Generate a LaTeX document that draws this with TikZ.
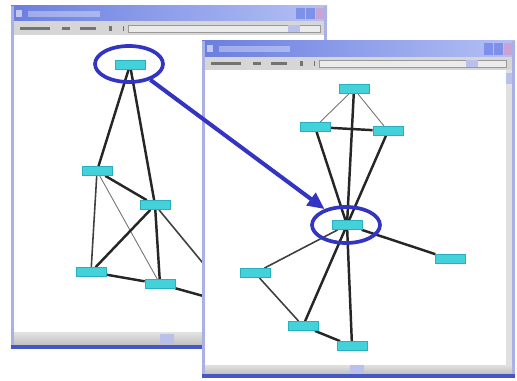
\documentclass[tikz,border=0pt]{standalone}
\usetikzlibrary{shapes.geometric,arrows.meta}
\definecolor{frame}{HTML}{A8B0E4}
\definecolor{titleL}{HTML}{6A7EE0}
\definecolor{titleR}{HTML}{B4C0F4}
\definecolor{tool}{HTML}{D6D6D6}
\definecolor{edge}{HTML}{4656C4}
\definecolor{nodefill}{HTML}{44D2DA}
\definecolor{nodeline}{HTML}{2AAFC0}
\definecolor{hilite}{HTML}{3434C2}
\definecolor{btn}{HTML}{7E90E8}
\definecolor{btnx}{HTML}{C8A4D4}
\tikzset{
  gnode/.style={rectangle,fill=nodefill,draw=nodeline,line width=0.4pt,minimum width=0.6cm,minimum height=0.18cm,inner sep=0pt},
  ethick/.style={line width=1.4pt,draw=black!85},
  emid/.style={line width=0.9pt,draw=black!75},
  ethin/.style={line width=0.5pt,draw=black!55},
  ring/.style={ellipse,draw=hilite,line width=2.1pt,minimum width=1.36cm,minimum height=0.72cm,inner sep=0pt},
  blob/.style={fill=black!55},
}
\begin{document}
\begin{tikzpicture}[x=0.02cm,y=-0.02cm]
\useasboundingbox (0,0) rectangle (517,381);
\fill[white] (0,0) rectangle (517,381);
% ---------- window 1 ----------
\fill[white] (11,6) rectangle (327,348);
\shade[left color=titleL,right color=titleR] (11,6) rectangle (327,21);
\fill[white,opacity=0.35] (28,11) rectangle (100,17);
\fill[frame!70!white] (16,10) rectangle (22,17);
\fill[btn] (296,8) rectangle (305,19);
\fill[btn] (306,8) rectangle (315,19);
\fill[btnx] (316,8) rectangle (325,19);
\fill[tool] (13,21) rectangle (325,35);
\fill[blob] (20,27) rectangle (50,30);
\fill[blob] (62,27) rectangle (70,30);
\fill[blob] (80,27) rectangle (96,30);
\fill[blob] (109,26) rectangle (112,31);
\fill[blob] (123,26) rectangle (124,31);
\fill[white!92!black] (128,25) rectangle (320,32);
\draw[black!40,line width=0.3pt] (128,25) rectangle (320,32);
\fill[frame!80!white] (288,25) rectangle (300,32);
\fill[frame] (11,6) rectangle (14,348);
\fill[frame] (324,6) rectangle (327,348);
\shade[top color=black!12,bottom color=black!25] (14,333) rectangle (324,345);
\fill[frame!80!white] (160,334) rectangle (174,344);
\fill[edge] (11,345) rectangle (327,349);
% graph 1
\node[gnode] (a) at (130,65) {};
\node[gnode] (b) at (97,171) {};
\node[gnode] (c) at (155,205) {};
\node[gnode] (d) at (91,272) {};
\node[gnode] (e) at (160,284) {};
\coordinate (cx) at (240,308);
\coordinate (ex) at (250,309);
\draw[ethick] (a) -- (b);
\draw[ethick] (a) -- (c);
\draw[ethick] (b) -- (c);
\draw[emid] (b) -- (d);
\draw[ethin] (b) -- (e);
\draw[ethick] (c) -- (d);
\draw[ethick] (c) -- (e);
\draw[ethick] (d) -- (e);
\draw[emid] (c) -- (cx);
\draw[ethick] (e) -- (ex);
\foreach \n in {a,b,c,d,e} \node[gnode] at (\n) {};
% ---------- window 2 ----------
\fill[white] (202,41) rectangle (515,378);
\shade[left color=titleL,right color=titleR] (202,41) rectangle (515,57);
\fill[white,opacity=0.35] (219,46) rectangle (290,52);
\fill[frame!70!white] (207,45) rectangle (213,52);
\fill[btn] (484,43) rectangle (493,55);
\fill[btn] (494,43) rectangle (503,55);
\fill[btnx] (504,43) rectangle (513,55);
\fill[tool] (204,57) rectangle (513,70);
\fill[blob] (211,62) rectangle (241,65);
\fill[blob] (253,62) rectangle (261,65);
\fill[blob] (271,62) rectangle (287,65);
\fill[blob] (300,61) rectangle (303,66);
\fill[blob] (314,61) rectangle (315,66);
\fill[white!92!black] (319,60) rectangle (506,67);
\draw[black!40,line width=0.3pt] (319,60) rectangle (506,67);
\fill[frame!80!white] (466,60) rectangle (478,67);
\fill[frame] (202,41) rectangle (205,378);
\fill[frame] (512,41) rectangle (515,378);
\fill[black!12] (506,70) rectangle (512,365);
\fill[frame!80!white] (506,73) rectangle (512,84);
\shade[top color=black!12,bottom color=black!25] (205,365) rectangle (512,374);
\fill[frame!80!white] (350,365) rectangle (364,374);
\fill[edge] (202,374) rectangle (515,378);
% graph 2
\node[gnode] (p) at (354,89) {};
\node[gnode] (q) at (315,127) {};
\node[gnode] (r) at (388,131) {};
\node[gnode] (s) at (347,225) {};
\node[gnode] (t) at (255,273) {};
\node[gnode] (u) at (450,259) {};
\node[gnode] (v) at (303,326) {};
\node[gnode] (w) at (352,346) {};
\draw[ethin] (p) -- (q);
\draw[ethin] (p) -- (r);
\draw[ethick] (p) -- (s);
\draw[ethick] (q) -- (r);
\draw[ethick] (q) -- (s);
\draw[ethick] (r) -- (s);
\draw[emid] (s) -- (t);
\draw[ethick] (s) -- (u);
\draw[ethick] (s) -- (v);
\draw[ethick] (s) -- (w);
\draw[emid] (t) -- (v);
\draw[ethick] (v) -- (w);
\foreach \n in {p,q,r,s,t,u,v,w} \node[gnode] at (\n) {};
% ---------- highlight ----------
\node[ring] (e1) at (129,64) {};
\node[ring] (e2) at (346,225) {};
\draw[hilite,line width=2.3pt,-{Triangle[length=0.34cm,width=0.3cm]}] (e1) -- (e2);
\end{tikzpicture}
\end{document}
